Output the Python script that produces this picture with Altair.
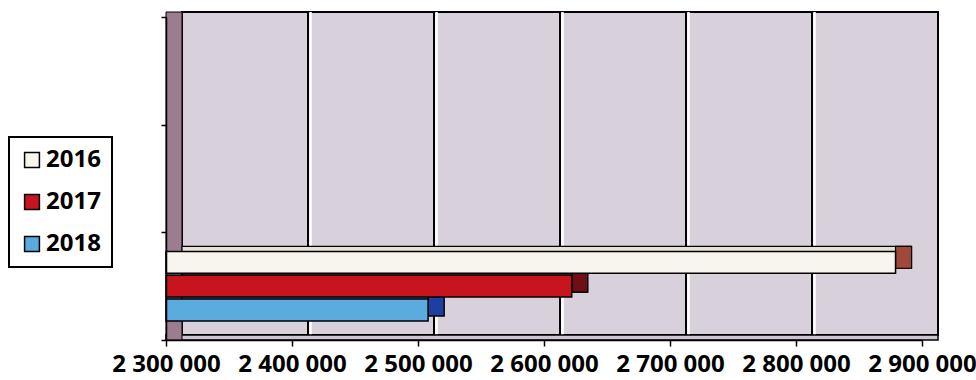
import altair as alt
import pandas as pd

# ---- data ----
years = ["2016", "2017", "2018"]
values = [2879000, 2622000, 2508000]
front_colors = ["#f8f5ee", "#c8141e", "#5aacdf"]
side_colors = ["#a0483a", "#6e0f16", "#1d3fa0"]
top_colors = ["#e6dfd4", "#a01018", "#3f86c4"]
ticks = [2300000, 2400000, 2500000, 2600000, 2700000, 2800000, 2900000]
bands = ["top", "mid", "bot"]

LEFT, TOP = 166, 17
W, H = 756, 323
DX, DY = 16, -5
FONT = "Open Sans"
BAND = H / 3

bars = pd.DataFrame({"year": years, "value": values, "band": "bot"})
grid = pd.DataFrame({"v": ticks[1:-1]})
wall = pd.DataFrame({"a": [ticks[0]], "b": [ticks[-1]]})

xscale = alt.Scale(domain=[ticks[0], ticks[-1]], nice=False, zero=False)
yscale = alt.Scale(domain=bands, paddingInner=0, paddingOuter=0)
yoff_front = alt.Scale(domain=years, paddingInner=0.083, paddingOuter=0.8)
yoff_back = alt.Scale(domain=years, paddingInner=0.083, paddingOuter=0.8,
                      range=[DY, BAND + DY])

x_axis = alt.Axis(
    values=ticks, title=None, grid=False, domainColor="black", domainWidth=1.5,
    tickColor="black", tickWidth=1.5, tickSize=6, labelFont=FONT, labelFontSize=24,
    labelFontWeight="bold", labelColor="black", labelPadding=6, labelFlush=False,
    labelExpr="replace(replace(format(datum.value, ','), ',', ' '), ',', ' ')",
    labelOverlap=False, zindex=1,
)
y_axis = alt.Axis(
    title=None, labels=False, grid=False, tickBand="extent", domainColor="black",
    domainWidth=1.5, tickColor="black", tickWidth=1.5, tickSize=5, zindex=1,
)

base_w = alt.Chart(wall)

back_wall = base_w.mark_rect(
    fill="#d8d1dc", stroke="black", strokeWidth=2,
    xOffset=DX, x2Offset=DX, yOffset=DY, y2Offset=DY,
).encode(
    x=alt.X("a:Q", scale=xscale, axis=x_axis),
    x2="b:Q",
    y=alt.value(0),
    y2=alt.value(H),
)

floor = base_w.mark_rect(
    fill="#cdc6d1", stroke="black", strokeWidth=1.5, x2Offset=DX,
).encode(
    x=alt.X("a:Q", scale=xscale),
    x2="b:Q",
    y=alt.value(H + DY),
    y2=alt.value(H),
)

left_wall = base_w.mark_rect(
    fill="#9c7d8f", stroke="black", strokeWidth=1, x2Offset=DX,
).encode(
    x=alt.X("a:Q", scale=xscale),
    x2="a:Q",
    y=alt.value(DY),
    y2=alt.value(H),
)

grid_white = alt.Chart(grid).mark_rule(
    color="white", strokeWidth=2.5, xOffset=DX + 2.5, yOffset=DY,
).encode(
    x=alt.X("v:Q", scale=xscale),
    y=alt.value(0), y2=alt.value(H),
)
grid_black = alt.Chart(grid).mark_rule(
    color="black", strokeWidth=2, xOffset=DX, yOffset=DY,
).encode(
    x=alt.X("v:Q", scale=xscale),
    y=alt.value(0), y2=alt.value(H),
)

bb = alt.Chart(bars)
common_y = alt.Y("band:N", scale=yscale, axis=y_axis)

bar_top = bb.mark_bar(
    stroke="black", strokeWidth=1.2, xOffset=DX, x2Offset=DX,
).encode(
    x=alt.X("value:Q", scale=xscale),
    x2=alt.X2(datum=ticks[0]),
    y=common_y, yOffset=alt.YOffset("year:N", scale=yoff_back),
    color=alt.Color("year:N", scale=alt.Scale(domain=years, range=top_colors), legend=None),
)

bar_side = bb.mark_bar(
    stroke="black", strokeWidth=1.2, x2Offset=DX,
).encode(
    x=alt.X("value:Q", scale=xscale),
    x2="value:Q",
    y=common_y, yOffset=alt.YOffset("year:N", scale=yoff_back),
    color=alt.Color("year:N", scale=alt.Scale(domain=years, range=side_colors), legend=None),
)

bar_front = bb.mark_bar(stroke="black", strokeWidth=1.5).encode(
    x=alt.X("value:Q", scale=xscale),
    x2=alt.X2(datum=ticks[0]),
    y=common_y, yOffset=alt.YOffset("year:N", scale=yoff_front),
    color=alt.Color(
        "year:N",
        scale=alt.Scale(domain=years, range=front_colors),
        legend=alt.Legend(
            title=None, orient="none", legendX=9 - LEFT, legendY=137 - TOP,
            symbolType="square", symbolSize=220, symbolStrokeColor="black",
            symbolStrokeWidth=1.5, symbolOpacity=1,
            labelFont=FONT, labelFontSize=24, labelFontWeight="bold", labelColor="black",
            labelOffset=2, rowPadding=18, padding=11,
            strokeColor="black", fillColor="white",
        ),
    ),
)

chart = alt.layer(
    back_wall, grid_white, grid_black, floor, left_wall, bar_top, bar_side, bar_front
).resolve_scale(color="independent", yOffset="independent").properties(
    width=W, height=H,
    autosize=alt.AutoSizeParams(type="none"),
    padding={"left": LEFT, "top": TOP, "right": 976 - LEFT - W, "bottom": 380 - TOP - H},
    background="white",
).configure_view(stroke=None).configure_legend(strokeWidth=2)

chart.save("out.html", embed_options={"renderer": "svg", "actions": False})
